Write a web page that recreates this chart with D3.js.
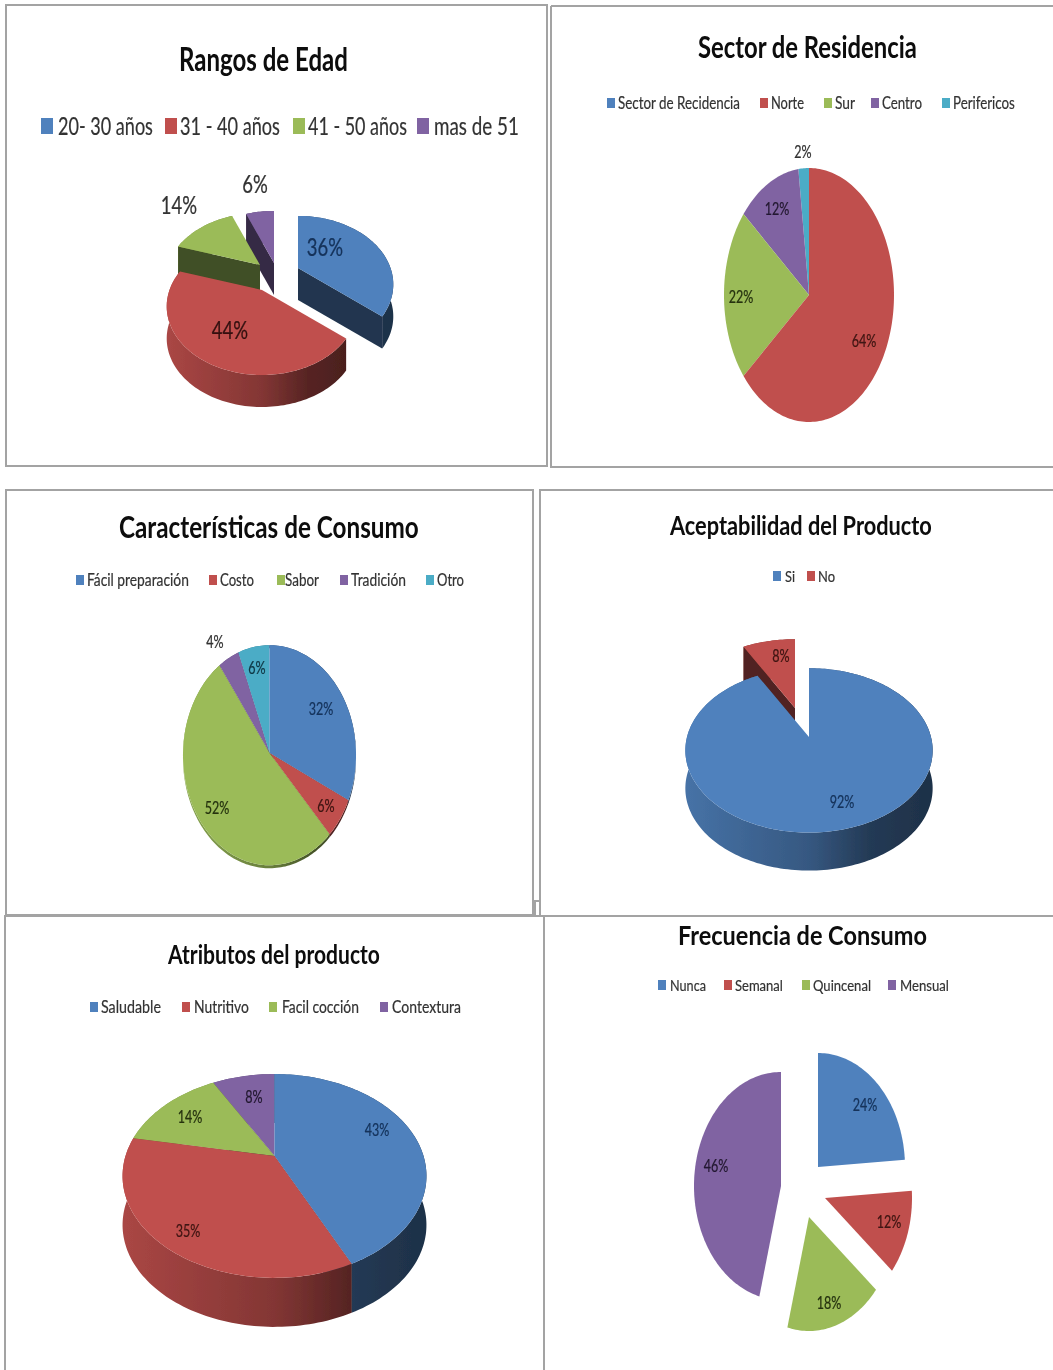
<!DOCTYPE html>
<html><head><meta charset="utf-8">
<script src="https://cdn.jsdelivr.net/npm/d3@7"></script>
<style>html,body{margin:0;padding:0;background:#fff}svg{display:block}text{font-family:Lato,"Open Sans",sans-serif}</style>
</head><body><div id="c"></div>
<script>
// ---- data ----
const edadCats=["20- 30 años","31 - 40 años","41 - 50 años","mas de 51"];
const edadVals=[36,44,14,6];
const sectorCats=["Sector de Recidencia","Norte","Sur","Centro","Perifericos"];
const sectorVals=[0,64,22,12,2];
const caracCats=["Fácil preparación","Costo","Sabor","Tradición","Otro"];
const caracVals=[32,6,52,4,6];
const aceptCats=["Si","No"];
const aceptVals=[92,8];
const atribCats=["Saludable","Nutritivo","Facil cocción","Contextura"];
const atribVals=[43,35,14,8];
const frecCats=["Nunca","Semanal","Quincenal","Mensual"];
const frecVals=[24,12,18,46];
const palette=["#4f81bd","#c0504d","#9bbb59","#8064a2","#4bacc6"];

// ---- layout (positions and styles only) ----
const charts=[
 {title:"Rangos de Edad",cats:edadCats,vals:edadVals,tx:179,tw:169,ty:71,tf:32,
  cx:262,cy:290,rx:92.5,ry:64.6,p:.24,depth:32,off:[[36,-22],[0,0],[-2,-25],[12,-27]],
  lf:25,ly:126,lsw:12,lsh:16,lx:[41,165,293,417],ltx:[58,180,308,434],ltw:[95,100,99,85],
  nf:25,nsx:.74,labels:[[325,247,"#14325a"],[230,330,"#341110"],[179,205,"#333"],[255,184,"#333"]]},
 {title:"Sector de Residencia",cats:sectorCats,vals:sectorVals,tx:698,tw:219,ty:58,tf:30,
  cx:809,cy:295,rx:85,ry:127,p:0,depth:0,off:[[0,0],[0,0],[0,0],[0,0],[0,0]],
  lf:17,ly:103,lsw:8,lsh:10,lx:[607,760,824,871,942],ltx:[618,771,835,882,953],ltw:[122,33,20,40,62],
  nf:17,nsx:.74,labels:[[0,0,"none"],[864,341,"#3e1412"],[741,297,"#26330f"],[777,209,"#221830"],[803,152,"#333"]]},
 {title:"Características de Consumo",cats:caracCats,vals:caracVals,tx:119,tw:300,ty:538,tf:30,
  cx:269.5,cy:753,rx:86.5,ry:110,p:.02,depth:3,off:[[0,0],[0,0],[0,0],[0,0],[0,0]],
  lf:17,ly:580,lsw:8,lsh:10,lx:[76,209,277,340,426],ltx:[87,220,285,351,437],ltw:[102,34,34,55,27],
  nf:17,nsx:.74,labels:[[321,709,"#14325a"],[326,806,"#3e1412"],[217,808,"#26330f"],[215,642,"#333"],[257,668,"#0f3744"]]},
 {title:"Aceptabilidad del Producto",cats:aceptCats,vals:aceptVals,tx:670,tw:262,ty:535,tf:26,
  cx:809,cy:737,rx:122,ry:80,p:.163,depth:38,off:[[0,0],[-14,-29]],
  lf:16,ly:576,lsw:8,lsh:10,lx:[773,807],ltx:[785,818],ltw:[10,17],
  nf:17,nsx:.74,labels:[[842,802,"#14325a"],[781,656,"#3e1412"]]},
 {title:"Atributos del producto",cats:atribCats,vals:atribVals,tx:168,tw:212,ty:964,tf:26,
  cx:274.5,cy:1156,rx:149,ry:98,p:.196,depth:49,off:[[0,0],[0,0],[0,0],[0,0]],
  lf:17,ly:1007,lsw:8,lsh:10,lx:[90,182,269,380],ltx:[101,194,282,392],ltw:[60,55,77,69],
  nf:17,nsx:.74,labels:[[377,1130,"#14325a"],[188,1231,"#3e1412"],[190,1117,"#26330f"],[254,1097,"#221830"]]},
 {title:"Frecuencia de Consumo",cats:frecCats,vals:frecVals,tx:678,tw:249,ty:945,tf:27,
  cx:800,cy:1190,rx:87,ry:114,p:0,depth:0,off:[[18,-23],[25,8],[9,27],[-19,-4]],
  lf:16,ly:985,lsw:8,lsh:10,lx:[658,724,802,888],ltx:[670,735,813,900],ltw:[36,48,58,49],
  nf:17,nsx:.74,labels:[[865,1105,"#14325a"],[889,1222,"#3e1412"],[829,1303,"#26330f"],[716,1166,"#221830"]]}
];
const frames=["M6 5H547V466H6Z","M551 6H1053M551 6V467H1053","M6 490H533V915H6Z","M1053 490H540V916H1053",
 "M5 1370V916H1053","M544 916V1370","M535 915V901H540"];

const W=1053,H=1370;
const svg=d3.select("#c").append("svg").attr("width",W).attr("height",H).attr("viewBox",[0,0,W,H]);
const defs=svg.append("defs");
defs.append("filter").attr("id","soft").attr("x","-5%").attr("y","-5%").attr("width","110%").attr("height","110%")
  .append("feGaussianBlur").attr("stdDeviation",.45);
const root=svg.append("g").attr("filter","url(#soft)");
root.append("rect").attr("width",W).attr("height",H).attr("fill","#fff");
root.selectAll("path.frame").data(frames).join("path").attr("class","frame")
  .attr("d",d=>d).attr("fill","none").attr("stroke","#a3a3a3").attr("stroke-width",2);

// squeeze a text horizontally about its x position so it spans the target width
function fit(sel,target){
  const x=+sel.attr("x"),k=target/sel.node().getComputedTextLength();
  sel.attr("transform",`translate(${x},0) scale(${k},1) translate(${-x},0)`);
}
function mul(c,k){const r=d3.rgb(c);return d3.rgb(r.r*k,r.g*k,r.b*k).formatHex();}
const line=d3.line();

charts.forEach((ch,ci)=>{
  const g=root.append("g");
  const title=g.append("text").attr("x",ch.tx).attr("y",ch.ty).attr("font-size",ch.tf)
    .attr("font-weight",700).attr("fill","#0a0a0a").text(ch.title);
  fit(title,ch.tw);
  // legend
  ch.cats.forEach((c,i)=>{
    g.append("rect").attr("x",ch.lx[i]).attr("y",ch.ly-ch.lsh/2).attr("width",ch.lsw).attr("height",ch.lsh).attr("fill",palette[i]);
    const t=g.append("text").attr("x",ch.ltx[i]).attr("y",ch.ly).attr("dy",".35em").attr("font-size",ch.lf)
      .attr("fill","#333").attr("stroke","#333").attr("stroke-width",.2).text(c);
    fit(t,ch.ltw[i]);
  });
  // pie
  const arcs=d3.pie().sort(null).value(d=>d)(ch.vals);
  const project=a=>{ // a clockwise from 12 o'clock, perspective on the disc
    const u=Math.sin(a),v=-Math.cos(a),s=1/(1-ch.p*v);
    return [ch.cx+ch.rx*u*s,ch.cy+ch.ry*v*s];
  };
  const order=arcs.map((a,i)=>({a,i,mid:-Math.cos((a.startAngle+a.endAngle)/2)}))
    .filter(d=>d.a.value>0).sort((x,y)=>x.mid-y.mid);
  order.forEach(({a,i})=>{
    const col=palette[i];
    const sg=g.append("g").attr("transform",`translate(${ch.off[i][0]},${ch.off[i][1]})`);
    const n=Math.max(8,Math.ceil((a.endAngle-a.startAngle)*40));
    const angs=d3.range(n+1).map(k=>a.startAngle+(a.endAngle-a.startAngle)*k/n);
    const rim=angs.map(t=>project(t));
    const c0=[ch.cx,ch.cy];
    if(ch.depth>0){
      const down=p=>[p[0],p[1]+ch.depth];
      const gid=`w${ci}_${i}`;
      const gr=defs.append("linearGradient").attr("id",gid).attr("gradientUnits","userSpaceOnUse")
        .attr("x1",ch.cx-ch.rx).attr("x2",ch.cx+ch.rx).attr("y1",0).attr("y2",0);
      [[0,.88],[.5,.68],[.75,.45],[1,.38]].forEach(([o,k])=>gr.append("stop").attr("offset",o).attr("stop-color",mul(col,k)));
      const dark=mul(col,.42);
      sg.append("path").attr("d",line(rim.concat(rim.map(down).reverse()))+"Z").attr("fill",`url(#${gid})`);
      // only the cut faces turned towards the viewer are painted
      if(Math.sin(a.startAngle)<-1e-6) sg.append("path").attr("d",line([c0,rim[0],down(rim[0]),down(c0)])+"Z").attr("fill",dark);
      if(Math.sin(a.endAngle)>1e-6) sg.append("path").attr("d",line([c0,rim[n],down(rim[n]),down(c0)])+"Z").attr("fill",dark);
    }
    sg.append("path").attr("d",line([c0].concat(rim))+"Z").attr("fill",col);
  });
  // percentage labels
  arcs.forEach((a,i)=>{
    if(!a.value) return;
    const [x,y,f]=ch.labels[i];
    const t=g.append("text").attr("x",x).attr("y",y).attr("dy",".35em").attr("text-anchor","middle")
      .attr("font-size",ch.nf).attr("fill",f).attr("stroke",f).attr("stroke-width",.25).text(a.value+"%");
    fit(t,t.node().getComputedTextLength()*ch.nsx);
  });
});
</script></body></html>
